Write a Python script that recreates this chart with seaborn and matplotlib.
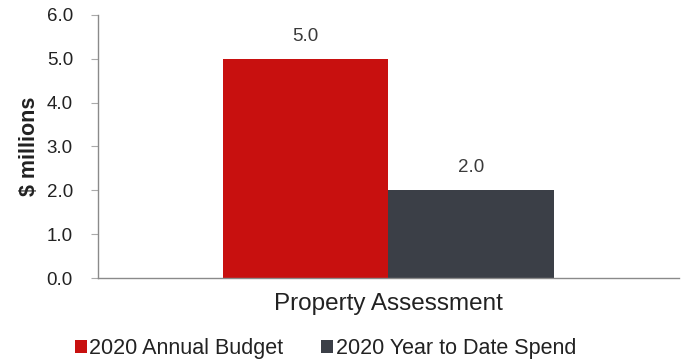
import matplotlib
matplotlib.use("Agg")
import matplotlib.pyplot as plt
import seaborn as sns
import pandas as pd

categories = ["Property Assessment"]
series = ["2020 Annual Budget", "2020 Year to Date Spend"]
values = [5.0, 2.0]
colors = ["#C8100F", "#3B3F47"]
y_ticks = [0.0, 1.0, 2.0, 3.0, 4.0, 5.0, 6.0]

df = pd.DataFrame({
    "category": categories * len(series),
    "series": series,
    "value": values,
})

sns.set_theme(style="white")
plt.rcParams["font.family"] = ["Liberation Sans", "DejaVu Sans"]

fig = plt.figure(figsize=(6.85, 3.62), dpi=100)
ax = fig.add_axes([0.143, 0.232, 0.848, 0.727])

sns.barplot(data=df, x="category", y="value", hue="series",
            palette=colors, width=0.57, saturation=1, ax=ax,
            edgecolor="none", legend=True)

for cont in ax.containers:
    ax.bar_label(cont, fmt="%.1f", padding=10, fontsize=13.5, color="#3a3a3a")

ax.set_ylim(0, 6)
ax.set_xlim(-0.5, 0.5)
ax.set_yticks(y_ticks)
ax.set_yticklabels([f"{t:.1f}" for t in y_ticks], fontsize=13.5, color="#222222")
ax.set_ylabel("$ millions", fontsize=15.5, fontweight="bold", color="#222222", labelpad=5)
ax.set_xlabel("")
ax.tick_params(axis="x", labelsize=17.5, colors="#222222", length=0, pad=11)
ax.tick_params(axis="y", left=True, length=5, width=0.8, color="#aaaaaa", pad=13)

for s in ["top", "right"]:
    ax.spines[s].set_visible(False)
ax.spines["left"].set_color("#8a8a8a")
ax.spines["left"].set_linewidth(1.0)
ax.spines["bottom"].set_color("#8a8a8a")
ax.spines["bottom"].set_linewidth(1.0)

handles, labels = ax.get_legend_handles_labels()
ax.legend(handles, labels, loc="center", bbox_to_anchor=(0.475, 0.036),
          bbox_transform=fig.transFigure,
          ncol=2, frameon=False, fontsize=15.5, handlelength=0.55, handleheight=0.55,
          handletextpad=0.12, columnspacing=1.75, labelcolor="#222222",
          borderpad=0.1)

fig.savefig("out.png", dpi=100)
